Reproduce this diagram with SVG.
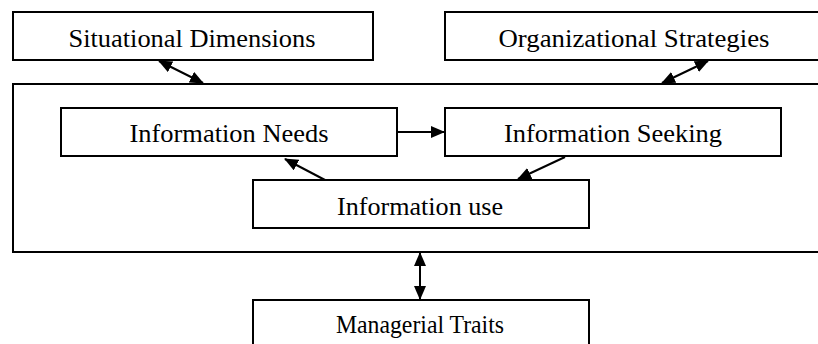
<svg xmlns="http://www.w3.org/2000/svg" width="818" height="344" viewBox="0 0 818 344">
<style>
.box{fill:#fff;stroke:#000;stroke-width:2}
.lbl{font-family:'Liberation Serif',serif;font-size:25px;fill:#000;text-anchor:middle}
.con{stroke:#000;stroke-width:2;fill:none}
</style>
<defs>
<marker id="ah" viewBox="0 0 14 12" refX="13" refY="6" markerWidth="14" markerHeight="12" markerUnits="userSpaceOnUse" orient="auto-start-reverse">
<path d="M0,0 L14,6 L0,12 Z" fill="#000"/>
</marker>
</defs>
<rect x="0" y="0" width="818" height="344" fill="#fff"/>
<g id="situational">
<rect class="box" x="13" y="12" width="360" height="48"/>
<text class="lbl" x="192" y="47" textLength="247" lengthAdjust="spacingAndGlyphs">Situational Dimensions</text>
</g>
<g id="organizational">
<rect class="box" x="445" y="12" width="380" height="48"/>
<text class="lbl" x="634" y="47" textLength="271" lengthAdjust="spacingAndGlyphs">Organizational Strategies</text>
</g>
<g id="context">
<rect class="box" x="13" y="84" width="812" height="168"/>
</g>
<g id="needs">
<rect class="box" x="61" y="108" width="336" height="48"/>
<text class="lbl" x="229" y="142" textLength="199" lengthAdjust="spacingAndGlyphs">Information Needs</text>
</g>
<g id="seeking">
<rect class="box" x="445" y="108" width="336" height="48"/>
<text class="lbl" x="613" y="142" textLength="218" lengthAdjust="spacingAndGlyphs">Information Seeking</text>
</g>
<g id="use">
<rect class="box" x="253" y="180" width="336" height="48"/>
<text class="lbl" x="420" y="215" textLength="166" lengthAdjust="spacingAndGlyphs">Information use</text>
</g>
<g id="managerial">
<rect class="box" x="253" y="300" width="336" height="60"/>
<text class="lbl" x="420" y="333" textLength="168" lengthAdjust="spacingAndGlyphs">Managerial Traits</text>
</g>
<g id="connectors">
<line class="con" x1="159" y1="61" x2="203" y2="83" marker-start="url(#ah)" marker-end="url(#ah)"/>
<line class="con" x1="708" y1="61" x2="662" y2="83" marker-start="url(#ah)" marker-end="url(#ah)"/>
<line class="con" x1="398" y1="132" x2="444" y2="132" marker-end="url(#ah)"/>
<line class="con" x1="565" y1="157" x2="518" y2="179" marker-end="url(#ah)"/>
<line class="con" x1="325" y1="180" x2="285" y2="159" marker-end="url(#ah)"/>
<line class="con" x1="420" y1="253" x2="420" y2="299" marker-start="url(#ah)" marker-end="url(#ah)"/>
</g>
</svg>
